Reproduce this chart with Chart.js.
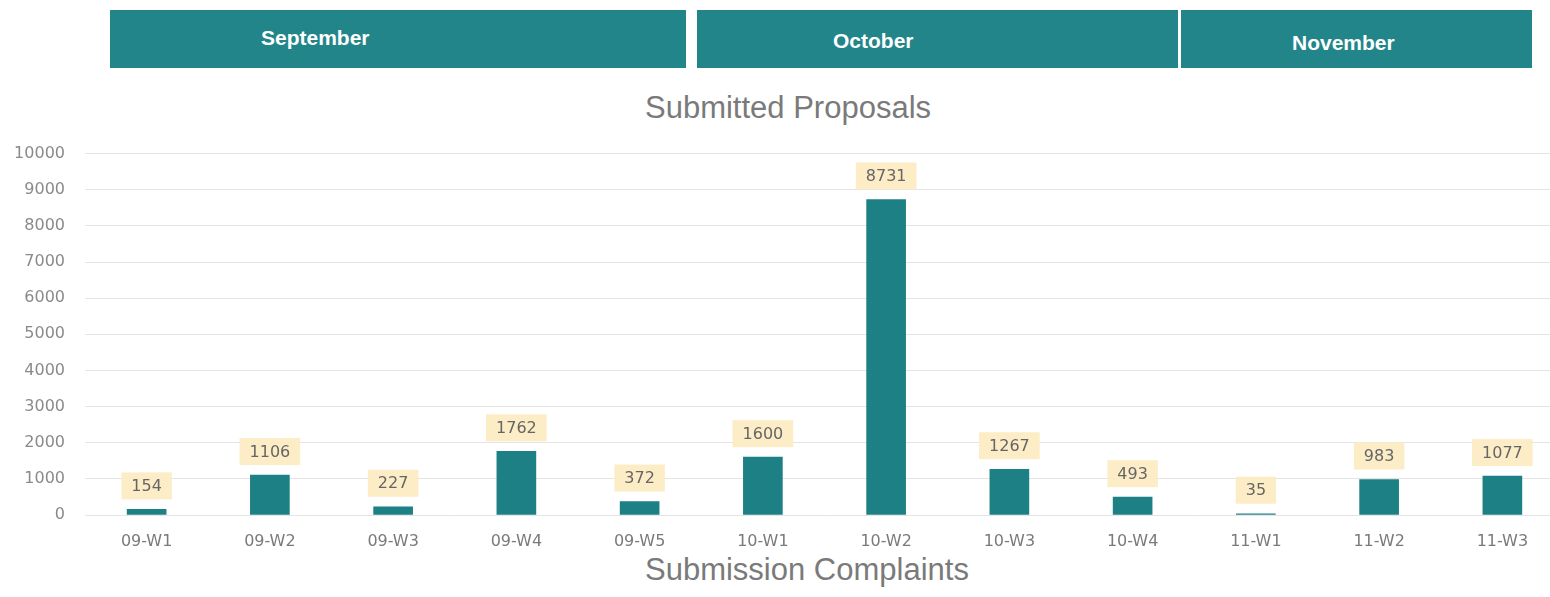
<!DOCTYPE html>
<html>
<head>
<meta charset="utf-8">
<script src="https://cdn.jsdelivr.net/npm/chart.js@4.4.1/dist/chart.umd.min.js"></script>
<style>
    html, body { margin: 0; padding: 0; background: #fff; overflow: hidden; }
    body { width: 1550px; height: 597px; position: relative; }
    .month {
        position: absolute; top: 10px; height: 58px; background: #21858a;
    }
    .month span {
        position: absolute; color: #fff; font: bold 21px "Liberation Sans", Arial, sans-serif;
        white-space: nowrap;
    }
    .title {
        position: absolute; left: 0; color: #7a7a7a; white-space: nowrap;
        font: 31px/31px "Liberation Sans", Arial, sans-serif;
    }
    #wrap { position: absolute; left: 0; top: 124px; width: 1582px; height: 431px; }
</style>
</head>
<body>
<div id="months"></div>
<div class="title" style="left:645px; top:92px;">Submitted Proposals</div>
<div class="title" style="left:645px; top:554px;">Submission Complaints</div>
<div id="wrap"><canvas id="chart"></canvas></div>
<script>
// Monatsleiste oben
const months = ['September', 'October', 'November'];
// [left, width, textLeft, textTop] je Monat
const monthBoxes = [
    [110, 576, 151, 16],
    [697, 481, 136, 19],
    [1181, 351, 111, 21],
];

const weeks = ['09-W1', '09-W2', '09-W3', '09-W4', '09-W5', '10-W1', '10-W2', '10-W3', '10-W4', '11-W1', '11-W2', '11-W3'];
const proposals = [154, 1106, 227, 1762, 372, 1600, 8731, 1267, 493, 35, 983, 1077];
const yTicks = [0, 1000, 2000, 3000, 4000, 5000, 6000, 7000, 8000, 9000, 10000];

const TEAL = '#1d8084';
const TICK_FONT = { family: '"DejaVu Sans", sans-serif', size: 16 };

const host = document.getElementById('months');
months.forEach((name, i) => {
    const [left, width, tl, tt] = monthBoxes[i];
    const box = document.createElement('div');
    box.className = 'month';
    box.style.left = left + 'px';
    box.style.width = width + 'px';
    const s = document.createElement('span');
    s.textContent = name;
    s.style.left = tl + 'px';
    s.style.top = tt + 'px';
    box.appendChild(s);
    host.appendChild(box);
});

// Wert-Labels mit hellgelbem Kasten über den Balken
const valueBoxes = {
    id: 'valueBoxes',
    afterDatasetsDraw(chart) {
        const ctx = chart.ctx;
        const meta = chart.getDatasetMeta(0);
        ctx.save();
        ctx.font = '16px "DejaVu Sans", sans-serif';
        ctx.textAlign = 'center';
        ctx.textBaseline = 'middle';
        meta.data.forEach((bar, i) => {
            const txt = String(chart.data.datasets[0].data[i]);
            const w = ctx.measureText(txt).width + 20;
            const h = 27;
            const bottom = bar.y - 10;
            ctx.fillStyle = 'rgba(253, 236, 196, 0.95)';
            ctx.fillRect(bar.x - w / 2, bottom - h, w, h);
            ctx.fillStyle = '#666';
            ctx.fillText(txt, bar.x, bottom - h / 2 + 1);
        });
        ctx.restore();
    },
};

new Chart(document.getElementById('chart'), {
    type: 'bar',
    data: {
        labels: weeks,
        datasets: [{
            label: 'Submitted Proposals',
            data: proposals,
            backgroundColor: TEAL,
            barThickness: 39,
        }],
    },
    options: {
        responsive: true,
        maintainAspectRatio: false,
        animation: false,
        layout: { padding: { top: 13, right: 18, left: 0, bottom: 0 } },
        plugins: {
            legend: { display: false },
            tooltip: { enabled: false },
            title: { display: false },
        },
        scales: {
            x: {
                grid: { display: false, drawTicks: false },
                border: { display: false },
                ticks: { color: '#7a7a7a', font: TICK_FONT, padding: 17, maxRotation: 0 },
                afterFit(scale) { scale.height = 40; },
            },
            y: {
                min: 0,
                max: 10000,
                afterBuildTicks(scale) { scale.ticks = yTicks.map(v => ({ value: v })); },
                grid: { color: '#e4e4e4', drawTicks: false, lineWidth: 1 },
                border: { display: false },
                ticks: {
                    color: '#8a8a8a', font: TICK_FONT, padding: 20,
                    callback: v => String(v),
                },
                afterFit(scale) { scale.width = 85; },
            },
        },
    },
    plugins: [valueBoxes],
});
</script>
</body>
</html>
